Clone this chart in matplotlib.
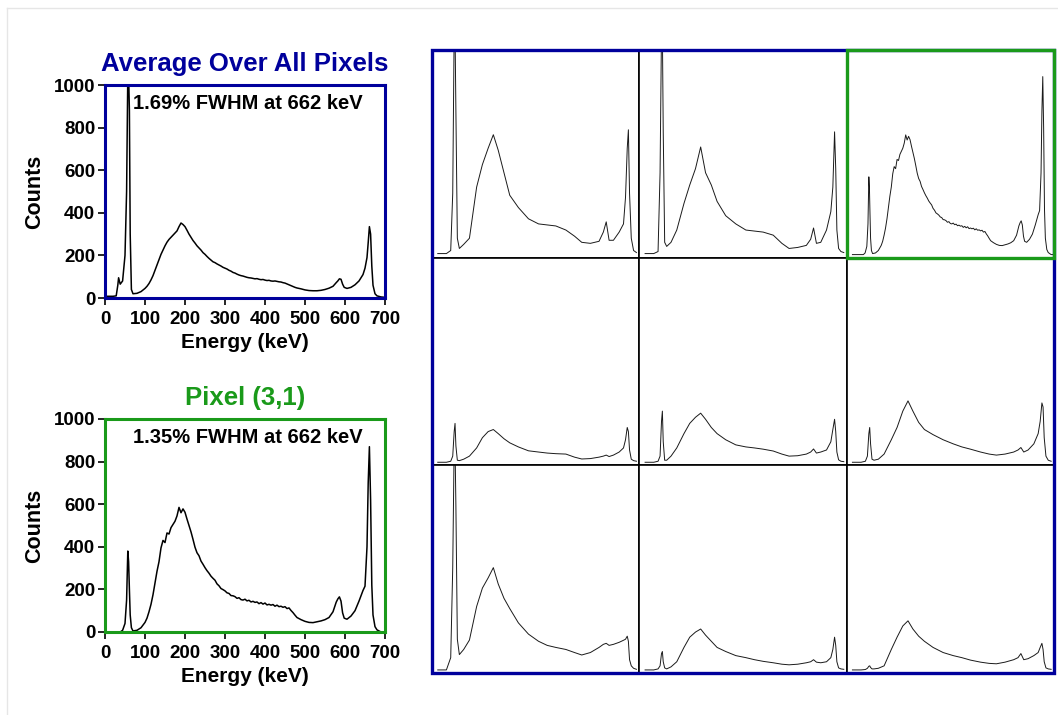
import matplotlib
matplotlib.use('Agg')
from matplotlib import pyplot as plt
from matplotlib.patches import Rectangle

plt.rcParams['font.family'] = ['Liberation Sans', 'DejaVu Sans']
plt.rcParams['font.weight'] = 'bold'

BLUE = '#00009c'
GREEN = '#1a9a1a'

# energy grid (keV) for the two large spectra
energy = ([0, 20, 28, 32, 34, 38, 44, 50, 54, 57, 59, 61, 63, 66, 70, 80, 90]
          + list(range(100, 485, 5))
          + [490, 500, 510, 520, 530, 540, 550, 560, 570, 578, 582, 586, 590, 594, 598,
             605, 615, 625, 635, 645, 650, 655, 658, 661, 664, 667, 670, 675, 680, 690, 700])

avg_counts = ([8, 8, 10, 60, 95, 65, 80, 200, 500, 1050, 1050, 880, 300, 40, 20, 22, 30]
              + [45, 55, 68, 85, 105, 130, 155, 180, 205, 225, 245, 262, 275, 285, 295, 305,
                 315, 335, 352, 345, 335, 318, 300, 285, 270, 258, 245, 235, 225, 213, 205,
                 195, 186, 178, 170, 166, 160, 155, 150, 144, 140, 136, 130, 126, 120, 117,
                 112, 108, 105, 103, 100, 97, 95, 94, 92, 90, 91, 88, 86, 87, 84, 82, 83,
                 80, 79, 80, 78, 76, 75, 72, 70, 66, 62, 58, 54, 50, 47]
              + [43, 38, 35, 34, 34, 36, 40, 46, 55, 72, 80, 90, 88, 65, 50, 45, 50, 62, 80,
                 110, 140, 190, 260, 335, 300, 150, 60, 20, 10, 5, 3])

pix31_counts = ([0, 0, 0, 0, 0, 0, 8, 40, 150, 380, 330, 200, 80, 20, 5, 8, 20]
                + [45, 65, 95, 130, 175, 230, 285, 330, 395, 430, 420, 465, 460, 490, 505,
                   520, 545, 585, 560, 578, 562, 530, 500, 470, 435, 398, 372, 358, 333, 318,
                   302, 288, 276, 262, 252, 243, 226, 217, 204, 199, 193, 184, 181, 171, 170,
                   166, 158, 161, 152, 150, 154, 146, 149, 141, 144, 139, 141, 133, 138, 131,
                   136, 127, 130, 126, 129, 121, 126, 119, 121, 116, 119, 110, 113, 101, 91,
                   79, 68]
                + [58, 50, 45, 44, 48, 52, 58, 68, 95, 140, 155, 165, 145, 90, 65, 60, 75,
                   100, 145, 195, 215, 400, 700, 870, 620, 220, 80, 25, 10, 0, 0])

# coarse energy grid for the 3x3 pixel panels
energy_s = [0, 30, 45, 52, 57, 60, 63, 68, 75, 90, 110, 135, 155, 175, 193, 210, 230, 250,
            280, 315, 350, 380, 410, 445, 475, 500, 530, 560, 575, 585, 595, 610, 630, 645,
            652, 658, 662, 666, 672, 680, 690]

pix11 = [5, 5, 20, 300, 1100, 1100, 700, 80, 30, 50, 80, 330, 440, 520, 586, 510, 400, 290,
         230, 175, 150, 145, 140, 120, 90, 60, 55, 65, 110, 160, 70, 70, 110, 150, 280, 520,
         610, 300, 80, 20, 10]
pix12 = [5, 5, 15, 400, 1100, 1100, 600, 60, 40, 60, 120, 250, 340, 420, 526, 400, 340, 260,
         190, 150, 120, 115, 110, 95, 55, 30, 35, 45, 75, 130, 55, 60, 120, 210, 330, 600,
         420, 120, 30, 15, 10]
pix21 = [0, 0, 5, 30, 150, 190, 80, 10, 8, 15, 30, 70, 120, 150, 160, 140, 115, 95, 75, 56,
         50, 45, 42, 40, 25, 16, 18, 25, 30, 35, 28, 35, 50, 70, 110, 170, 150, 60, 15, 8, 5]
pix22 = [0, 0, 5, 30, 200, 250, 100, 10, 10, 30, 70, 140, 190, 220, 240, 210, 170, 140, 110,
         85, 75, 70, 64, 55, 40, 30, 32, 40, 50, 65, 45, 50, 60, 100, 160, 210, 150, 50, 12, 5, 3]
pix23 = [0, 0, 5, 30, 140, 170, 90, 15, 10, 15, 40, 110, 170, 250, 300, 250, 195, 160, 135,
         110, 90, 75, 64, 50, 40, 35, 40, 50, 60, 72, 50, 60, 90, 140, 200, 290, 270, 120, 30,
         10, 5]
pix31s = [0, 0, 60, 500, 1100, 1100, 800, 150, 75, 100, 146, 310, 400, 450, 500, 420, 350,
          300, 230, 175, 140, 120, 110, 100, 85, 73, 85, 110, 125, 130, 120, 125, 135, 145, 150,
          165, 140, 50, 20, 8, 3]
pix32 = [0, 0, 5, 20, 80, 90, 40, 10, 5, 15, 40, 110, 160, 185, 200, 170, 140, 110, 90, 70,
         60, 50, 42, 35, 28, 25, 28, 35, 40, 50, 38, 35, 40, 60, 100, 160, 120, 40, 10, 5, 3]
pix33 = [0, 0, 2, 8, 18, 20, 12, 5, 5, 8, 20, 100, 160, 215, 240, 200, 165, 140, 110, 85,
         70, 60, 48, 38, 32, 30, 38, 50, 60, 80, 50, 55, 70, 85, 110, 130, 100, 40, 10, 5, 3]

W, H = 1058, 715
fig = plt.figure(figsize=(W / 100, H / 100), dpi=100)


def px_axes(x0, y0, x1, y1):
    return fig.add_axes([x0 / W, 1 - y1 / H, (x1 - x0) / W, (y1 - y0) / H])


def big_plot(ax, x, y, col, title, note):
    ax.plot(x, y, color='black', lw=1.1)
    ax.set_xlim(0, 700)
    ax.set_ylim(0, 1000)
    ax.set_xticks(range(0, 701, 100))
    ax.set_yticks(range(0, 1001, 200))
    ax.tick_params(direction='out', length=5, width=1.2, labelsize=13.5, pad=2)
    ax.tick_params(axis='x', pad=4)
    for s in ax.spines.values():
        s.set_color(col)
        s.set_linewidth(2.2)
    for lab in ax.get_xticklabels() + ax.get_yticklabels():
        lab.set_fontweight('bold')
    ax.set_xlabel('Energy (keV)', fontsize=15, fontweight='bold', labelpad=4)
    ax.set_ylabel('Counts', fontsize=15.5, fontweight='bold', labelpad=6)
    ax.set_title(title, color=col, fontsize=18.5, fontweight='bold', pad=10)
    ax.text(0.1, 0.915, note, transform=ax.transAxes, fontsize=14.5,
            fontweight='bold', va='center', ha='left')


ax1 = px_axes(105, 85, 385, 298)
big_plot(ax1, energy, avg_counts, BLUE, 'Average Over All Pixels', '1.69% FWHM at 662 keV')
ax2 = px_axes(105, 419, 385, 632)
big_plot(ax2, energy, pix31_counts, GREEN, 'Pixel (3,1)', '1.35% FWHM at 662 keV')

# 3x3 grid of pixel spectra
gx0, gx1, gy0, gy1 = 432, 1054, 50, 673
cw = (gx1 - gx0) / 3
ch = (gy1 - gy0) / 3
panels = [[(energy_s, pix11), (energy_s, pix12), (energy, pix31_counts)],
          [(energy_s, pix21), (energy_s, pix22), (energy_s, pix23)],
          [(energy_s, pix31s), (energy_s, pix32), (energy_s, pix33)]]
for r in range(3):
    for c in range(3):
        ax = px_axes(gx0 + c * cw, gy0 + r * ch, gx0 + (c + 1) * cw, gy0 + (r + 1) * ch)
        xs, ys = panels[r][c]
        ax.plot(xs, ys, color='#1a1a1a', lw=0.7)
        ax.set_xlim(-20, 700)
        ax.set_ylim(-15, 1000)
        ax.set_xticks([])
        ax.set_yticks([])
        for s in ax.spines.values():
            s.set_color('black')
            s.set_linewidth(1.2)

fig.patches.append(Rectangle((gx0 / W, 1 - gy1 / H), (gx1 - gx0) / W, (gy1 - gy0) / H,
                             transform=fig.transFigure, fill=False, edgecolor=BLUE, lw=2.4,
                             zorder=10))
fig.patches.append(Rectangle(((gx0 + 2 * cw) / W, 1 - (gy0 + ch) / H), cw / W, ch / H,
                             transform=fig.transFigure, fill=False, edgecolor=GREEN, lw=2.4,
                             zorder=11))
# faint page border
fig.add_artist(plt.Line2D([7 / W, 7 / W], [0, 1 - 8 / H], transform=fig.transFigure,
                          color='#e6e6e6', lw=1))
fig.add_artist(plt.Line2D([7 / W, 1], [1 - 8 / H, 1 - 8 / H], transform=fig.transFigure,
                          color='#e6e6e6', lw=1))

fig.savefig('out.png', dpi=100)
